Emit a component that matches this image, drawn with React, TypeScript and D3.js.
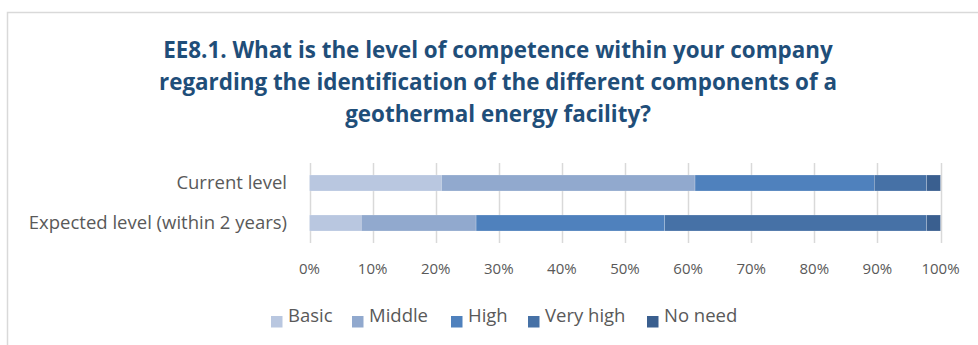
import { useEffect, useRef } from 'react';
import * as d3 from 'd3';

const categories = ['Current level', 'Expected level (within 2 years)'];
const seriesNames = ['Basic', 'Middle', 'High', 'Very high', 'No need'];
const basic = [20.9, 8.2];
const middle = [40.2, 18.2];
const high = [28.4, 29.9];
const veryHigh = [8.3, 41.5];
const noNeed = [2.2, 2.2];
const colors = ['#b9c7e0', '#91a9ce', '#4f81bd', '#4671a6', '#3a5f8f'];
const ticks = [0, 10, 20, 30, 40, 50, 60, 70, 80, 90, 100];
const titleLines = [
  'EE8.1. What is the level of competence within your company',
  'regarding the identification of the different components of a',
  'geothermal energy facility?',
];

const W = 978;
const H = 345;
const FONT = '"Open Sans", Lato, sans-serif';

const App = () => {
  const svgRef = useRef<SVGSVGElement>(null);

  useEffect(() => {
    if (!svgRef.current) return;
    const svg = d3.select(svgRef.current);
    svg.selectAll('*').remove();

    // chart area border (runs off the right/bottom edge like the source crop)
    svg.append('rect')
      .attr('x', 7.5)
      .attr('y', 12.5)
      .attr('width', W + 20)
      .attr('height', H + 20)
      .attr('fill', 'none')
      .attr('stroke', '#d9d9d9')
      .attr('stroke-width', 1.5);

    // title
    svg.append('text')
      .attr('x', 498)
      .attr('y', 58)
      .attr('text-anchor', 'middle')
      .attr('font-family', FONT)
      .attr('font-weight', 'bold')
      .attr('font-size', 22.4)
      .attr('fill', '#1f4e79')
      .selectAll('tspan')
      .data(titleLines)
      .enter()
      .append('tspan')
      .attr('x', 498)
      .attr('dy', (_d, i) => (i === 0 ? 0 : 32))
      .text(d => d);

    const x = d3.scaleLinear().domain([0, 100]).range([309.5, 940.5]);
    const y = d3.scaleBand()
      .domain(categories)
      .range([163, 243])
      .paddingInner(0.6)
      .paddingOuter(0.3);

    // gridlines
    svg.append('g')
      .selectAll('line')
      .data(ticks)
      .enter()
      .append('line')
      .attr('x1', d => Math.round(x(d)) + 0.5)
      .attr('x2', d => Math.round(x(d)) + 0.5)
      .attr('y1', 163)
      .attr('y2', 243)
      .attr('stroke', '#d9d9d9')
      .attr('stroke-width', 1.5);

    // tick labels
    svg.append('g')
      .selectAll('text')
      .data(ticks)
      .enter()
      .append('text')
      .attr('x', d => x(d))
      .attr('y', 274)
      .attr('text-anchor', 'middle')
      .attr('font-family', FONT)
      .attr('font-size', 15)
      .attr('fill', '#595959')
      .text(d => `${d}%`);

    // category labels
    svg.append('g')
      .selectAll('text')
      .data(categories)
      .enter()
      .append('text')
      .attr('x', 287)
      .attr('y', d => (y(d) || 0) + y.bandwidth() / 2)
      .attr('dy', '0.35em')
      .attr('text-anchor', 'end')
      .attr('font-family', FONT)
      .attr('font-size', 18.5)
      .attr('fill', '#595959')
      .text(d => d);

    // stacked bars
    const rows = categories.map((c, i) => ({
      category: c,
      Basic: basic[i],
      Middle: middle[i],
      High: high[i],
      'Very high': veryHigh[i],
      'No need': noNeed[i],
    }));
    const stacked = d3.stack<any>().keys(seriesNames)(rows);

    svg.append('g')
      .selectAll('g')
      .data(stacked)
      .enter()
      .append('g')
      .attr('fill', (_d, i) => colors[i])
      .selectAll('rect')
      .data(d => d)
      .enter()
      .append('rect')
      .attr('x', d => x(d[0]))
      .attr('width', d => x(d[1]) - x(d[0]))
      .attr('y', d => y(d.data.category) || 0)
      .attr('height', y.bandwidth())
      .attr('stroke', '#ffffff')
      .attr('stroke-opacity', 0.4)
      .attr('stroke-width', 0.5);

    // legend
    const legendX = [271, 352, 451, 528, 647];
    const legend = svg.append('g')
      .selectAll('g')
      .data(seriesNames)
      .enter()
      .append('g')
      .attr('transform', (_d, i) => `translate(${legendX[i]},316)`);
    legend.append('rect')
      .attr('width', 11.5)
      .attr('height', 11.5)
      .attr('fill', (_d, i) => colors[i]);
    legend.append('text')
      .attr('x', 17)
      .attr('y', 6)
      .attr('font-family', FONT)
      .attr('font-size', 18.5)
      .attr('fill', '#595959')
      .text(d => d);
  }, []);

  return (
    <svg
      ref={svgRef}
      width={W}
      height={H}
      style={{ position: 'absolute', left: 0, top: 0, background: '#fff' }}
    />
  );
};

export default App;
